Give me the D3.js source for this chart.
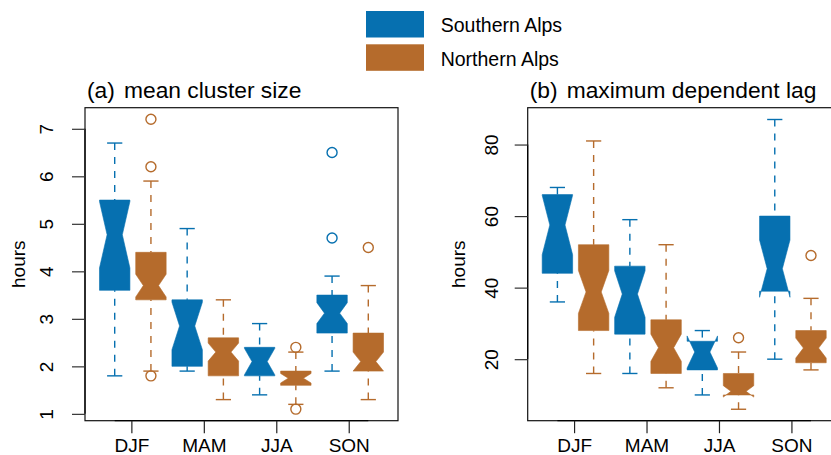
<!DOCTYPE html>
<html>
<head>
<meta charset="utf-8">
<script src="https://cdn.jsdelivr.net/npm/d3@7"></script>
<style>
  body { margin: 0; background: #fff; }
  svg { display: block; font-family: "Liberation Sans", Arial, sans-serif; }
</style>
</head>
<body>
<div id="chart"></div>
<script>
// seasons and regions
const seasons = ["DJF", "MAM", "JJA", "SON"];
const regions = ["Southern Alps", "Northern Alps"];
const colors  = ["#0670b0", "#b56b2c"];

// box stats per season: [lower whisker, q1, median, q3, upper whisker]
const sizeSouth = [[1.8, 3.6, 4.77, 5.5, 6.7], [1.9, 2.0, 2.85, 3.4, 4.9], [1.4, 1.8, 2.1, 2.4, 2.9], [1.9, 2.7, 3.12, 3.5, 3.9]];
const sizeNorth = [[1.9, 3.4, 3.7, 4.4, 5.9], [1.3, 1.8, 2.3, 2.6, 3.4], [1.2, 1.6, 1.75, 1.9, 2.3], [1.3, 1.9, 2.1, 2.7, 3.7]];
const sizeNotchSouth = [0.7, 0.5, 0.28, 0.22];
const sizeNotchNorth = [0.24, 0.19, 0.1, 0.2];
const sizeOutSouth = [[], [], [], [4.7, 6.5]];
const sizeOutNorth = [[1.8, 6.2, 7.2], [], [1.1, 2.4], [4.5]];

const lagSouth = [[36, 44, 57.5, 66, 68], [16, 27, 38.2, 46, 59], [10, 17, 22, 25, 28], [20, 39, 45.3, 60, 87]];
const lagNorth = [[16, 28, 38.8, 52, 81], [12, 16, 23.2, 31, 52], [6, 10, 11, 16, 22], [17, 19, 23.1, 28, 37]];
const lagNotchSouth = [8.3, 6.5, 4.5, 8];
const lagNotchNorth = [6, 3.8, 1.6, 2.8];
const lagOutSouth = [[], [], [], []];
const lagOutNorth = [[], [], [26], [49]];

const sizeTicks = [1, 2, 3, 4, 5, 6, 7];
const lagTicks  = [20, 40, 60, 80];

const FONT = '"Liberation Sans", Arial, sans-serif';
const W = 831, H = 455;
const svg = d3.select("#chart").append("svg")
    .attr("width", W).attr("height", H)
    .attr("viewBox", `0 0 ${W} ${H}`);

// turn the arrays into one row per box, in plotting order (south, north per season)
function boxes(south, north, nS, nN, oS, oN) {
    const out = [];
    seasons.forEach((s, i) => {
        out.push({ pos: 2 * i + 1, stats: south[i], notch: nS[i], out: oS[i], col: colors[0] });
        out.push({ pos: 2 * i + 2, stats: north[i], notch: nN[i], out: oN[i], col: colors[1] });
    });
    return out;
}

function drawPanel(p) {
    const x = d3.scaleLinear().domain([0.18, 8.82]).range([p.left, p.left + 313]);
    const y = d3.scaleLinear().domain(p.ydom).range([420.7, 107.7]);
    const g = svg.append("g");
    const hw = 0.42;  // box half width in x units

    const b = g.selectAll("g.box").data(p.data).join("g").attr("class", "box");

    // whiskers, drawn from the end towards the hinge
    b.each(function (d) {
        const s = d.stats, gg = d3.select(this);
        [[s[0], s[1]], [s[4], s[3]]].forEach(([a, h]) => {
            gg.append("line")
                .attr("x1", x(d.pos)).attr("x2", x(d.pos))
                .attr("y1", y(a)).attr("y2", y(h))
                .attr("stroke", d.col).attr("stroke-width", 1.4)
                .attr("stroke-dasharray", "7,7");
            gg.append("line")
                .attr("x1", x(d.pos - hw / 2)).attr("x2", x(d.pos + hw / 2))
                .attr("y1", y(a)).attr("y2", y(a))
                .attr("stroke", d.col).attr("stroke-width", 1.4);
        });
    });

    // notched box
    b.append("polygon")
        .attr("points", d => {
            const [, q1, md, q3] = d.stats;
            const lo = md - d.notch, hi = md + d.notch;
            const xl = x(d.pos - hw), xr = x(d.pos + hw);
            const nl = x(d.pos - hw / 2), nr = x(d.pos + hw / 2);
            return [[xl, y(q1)], [xl, y(lo)], [nl, y(md)], [xl, y(hi)], [xl, y(q3)],
                    [xr, y(q3)], [xr, y(hi)], [nr, y(md)], [xr, y(lo)], [xr, y(q1)]]
                .map(v => v.join(",")).join(" ");
        })
        .attr("fill", d => d.col)
        .attr("stroke", d => d.col).attr("stroke-width", 0.6);

    // outliers
    b.selectAll("circle").data(d => d.out.map(v => ({ v, pos: d.pos, col: d.col })))
        .join("circle")
        .attr("cx", d => x(d.pos)).attr("cy", d => y(d.v)).attr("r", 5)
        .attr("fill", "none").attr("stroke", d => d.col).attr("stroke-width", 1.4);

    // plot frame
    g.append("rect")
        .attr("x", p.left).attr("y", 107.7).attr("width", 313).attr("height", 313)
        .attr("fill", "none").attr("stroke", "#111").attr("stroke-width", 1.2);

    // y axis
    const ya = g.append("g").attr("transform", `translate(${p.left},0)`)
        .call(d3.axisLeft(y).tickValues(p.ticks).tickSize(13).tickFormat(d3.format("d")))
        .attr("font-size", 19).attr("font-family", FONT);
    ya.select(".domain").attr("d", `M0,${y(p.ticks[0])}V${y(p.ticks[p.ticks.length - 1])}`)
        .attr("stroke", "#000").attr("stroke-width", 1.2);
    ya.selectAll(".tick line").attr("stroke", "#333").attr("stroke-width", 1.2);
    ya.selectAll(".tick text")
        .attr("x", null).attr("dy", null).attr("y", null)
        .attr("transform", `translate(${-p.tickLab},0) rotate(-90)`)
        .attr("text-anchor", "middle").attr("fill", "#000");

    // x axis: line from first to last box, ticks between the pairs
    const xa = g.append("g").attr("transform", "translate(0,420.7)")
        .call(d3.axisBottom(x).tickValues(seasons.map((s, i) => 2 * i + 1.46))
            .tickSize(12.5).tickFormat((d, i) => seasons[i]))
        .attr("font-size", 19).attr("font-family", FONT);
    xa.select(".domain").attr("d", `M${x(1)},0H${x(8)}`)
        .attr("stroke", "#000").attr("stroke-width", 1.2);
    xa.selectAll(".tick line").attr("stroke", "#222").attr("stroke-width", 1.2);
    xa.selectAll(".tick text").attr("y", 31).attr("dy", null).attr("fill", "#000");

    // y label
    g.append("text")
        .attr("transform", `translate(${p.left - p.ylab},264.2) rotate(-90)`)
        .attr("text-anchor", "middle").attr("font-size", 19)
        .text("hours");

    // title
    g.append("text").attr("x", p.left + 2).attr("y", 98.3)
        .attr("font-size", 22.8).text(p.tag);
    g.append("text").attr("x", p.left + 39).attr("y", 98.3)
        .attr("font-size", 22.8).text(p.title);
}

drawPanel({
    left: 85, ydom: [0.856, 7.444], ticks: sizeTicks, tickLab: 31.7, ylab: 60,
    tag: "(a)", title: "mean cluster size",
    data: boxes(sizeSouth, sizeNorth, sizeNotchSouth, sizeNotchNorth, sizeOutSouth, sizeOutNorth)
});
drawPanel({
    left: 527.7, ydom: [2.8, 90.3], ticks: lagTicks, tickLab: 29.4, ylab: 62.7,
    tag: "(b)", title: "maximum dependent lag",
    data: boxes(lagSouth, lagNorth, lagNotchSouth, lagNotchNorth, lagOutSouth, lagOutNorth)
});

// legend
const leg = svg.append("g").selectAll("g").data(regions).join("g")
    .attr("transform", (d, i) => `translate(366,${11 + i * 33.3})`);
leg.append("rect").attr("width", 58).attr("height", 26.5)
    .attr("fill", (d, i) => colors[i]);
leg.append("text").attr("x", 74.7).attr("y", 21.3)
    .attr("font-size", 19.5).text(d => d);
</script>
</body>
</html>
